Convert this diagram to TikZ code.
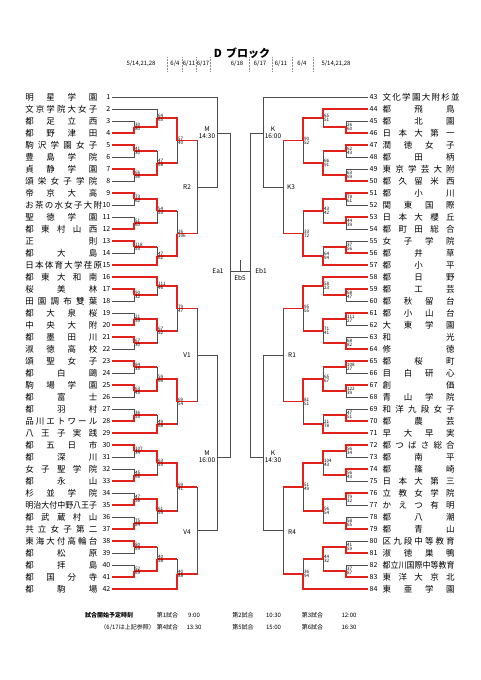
\documentclass[tikz,border=0pt]{standalone}
\usepackage{fontspec}
\setmainfont{Noto Sans CJK JP}
\usetikzlibrary{positioning,calc}
\definecolor{WinRed}{HTML}{E3211B}
\definecolor{WireGray}{HTML}{4D4D4D}
\definecolor{SepGray}{HTML}{8C8C8C}
\tikzset{
  wire/.style={draw=WireGray, line width=0.6pt},
  winpath/.style={draw=WinRed, line width=1.4pt},
  teamname/.style={font=\fontsize{8.5}{9}\selectfont, inner sep=0pt},
  seed/.style={font=\fontsize{7}{8}\selectfont, inner sep=1.5pt},
  pts/.style={font=\fontsize{4.6}{5}\selectfont, inner sep=0.2pt, xshift=0.6pt},
  tag/.style={font=\fontsize{6.5}{7}\selectfont, inner sep=0.5pt, align=center},
  datecol/.style={font=\fontsize{6}{7}\selectfont, inner sep=0pt},
  foot/.style={font=\fontsize{6}{7}\selectfont, inner sep=0pt},
}
\newcommand\spread[1]{\makebox[72pt][s]{#1}}
\newcommand\tight[2]{\scalebox{#1}[1]{#2}}
% bracket helpers
\newcommand\bout[3]{\draw[wire] (#1) -| (#3) (#2) -| (#3);}
\newcommand\won[2]{\draw[winpath] (#1) -| (#2);}
\newcommand\went[2]{\draw[winpath] (#1) -- (#1 -| #2);}
\newcommand\score[3]{\node[pts, anchor=south west] (#1a) at (#1) {#2};
  \node[pts, anchor=north west] (#1b) at (#1) {#3};}

\begin{document}
\begin{tikzpicture}[x=1pt, y=-1pt]
  \fill[white] (0,0) rectangle (481,680);
  \useasboundingbox (0,0) rectangle (481,680);

  % title and dates
  \node[font=\fontsize{11}{12}\selectfont\bfseries] (title) at (242,53) {D\hspace{0.4em}ブロック};
  \foreach \x/\d [count=\i] in {141/{5/14,21,28}, 175/{6/4}, 189/{6/11}, 203/{6/17}, 237/{6/18},
      260/{6/17}, 281/{6/11}, 302/{6/4}, 336/{5/14,21,28}}
    \node[datecol] (d\i) at (\x,64) {\d};
  \foreach \x [count=\i] in {167,182,196,210,249,272,292,313}
    \draw[SepGray, densely dotted, line width=0.5pt] (\x,57) coordinate (s\i) -- (\x,71);

  \begin{scope}[y=-12pt, yshift=-85pt]
  % teams
  \foreach \k/\nm in {1/{明 星 学 園}, 2/{文 京 学 院 大 女 子}, 3/{都 足 立 西}, 4/{都 野 津 田},
      5/{駒 沢 学 園 女 子}, 6/{豊 島 学 院}, 7/{貞 静 学 園}, 8/{頌 栄 女 子 学 院},
      9/{帝 京 大 高}, 10/{お 茶 の 水 女 子 大 附}, 11/{聖 徳 学 園}, 12/{都 東 村 山 西},
      13/{正 則}, 14/{都 大 島}, 15/{日 本 体 育 大 学 荏 原}, 16/{都 東 大 和 南},
      17/{桜 美 林}, 18/{田 園 調 布 雙 葉}, 19/{都 大 泉 桜}, 20/{中 央 大 附},
      21/{都 墨 田 川}, 22/{淑 徳 高 校}, 23/{頌 聖 女 子}, 24/{都 白 鷗},
      25/{駒 場 学 園}, 26/{都 富 士}, 27/{都 羽 村}, 28/{品 川 エ ト ワ ー ル},
      29/{八 王 子 実 践}, 30/{都 五 日 市}, 31/{都 深 川}, 32/{女 子 聖 学 院},
      33/{都 永 山}, 34/{杉 並 学 院}, 35/{\tight{0.94}{明治大付中野八王子}}, 36/{都 武 蔵 村 山},
      37/{共 立 女 子 第 二}, 38/{東 海 大 付 高 輪 台}, 39/{都 松 原}, 40/{都 拝 島},
      41/{都 国 分 寺}, 42/{都 駒 場}}{
    \node[teamname, anchor=east] (n\k) at (97.5,\k) {\spread{\nm}};
    \node[seed, anchor=east] (t\k) at (112,\k) {\k};
  }
  \foreach \k/\nm in {43/{文 化 学 園 大 附 杉 並}, 44/{都 飛 鳥}, 45/{都 北 園}, 46/{日 本 大 第 一},
      47/{潤 徳 女 子}, 48/{都 田 柄}, 49/{東 京 学 芸 大 附}, 50/{都 久 留 米 西},
      51/{都 小 川}, 52/{関 東 国 際}, 53/{日 本 大 櫻 丘}, 54/{都 町 田 総 合},
      55/{女 子 学 院}, 56/{都 井 草}, 57/{都 小 平}, 58/{都 日 野},
      59/{都 工 芸}, 60/{都 秋 留 台}, 61/{都 小 山 台}, 62/{大 東 学 園},
      63/{和 光}, 64/{修 徳}, 65/{都 桜 町}, 66/{目 白 研 心},
      67/{創 価}, 68/{青 山 学 院}, 69/{和 洋 九 段 女 子}, 70/{都 農 芸},
      71/{早 大 早 実}, 72/{都 つ ば さ 総 合}, 73/{都 南 平}, 74/{都 篠 崎},
      75/{日 本 大 第 三}, 76/{立 教 女 学 院}, 77/{か え つ 有 明}, 78/{都 八 潮},
      79/{都 青 山}, 80/{区 九 段 中 等 教 育}, 81/{淑 徳 巣 鴨}, 82/{\tight{0.94}{都立川国際中等教育}},
      83/{東 洋 大 京 北}, 84/{東 亜 学 園}}{
    \pgfmathtruncatemacro\r{\k-42}
    \node[seed, anchor=west] (t\k) at (368,\r) {\k};
    \node[teamname, anchor=west] (n\k) at (382.5,\r) {\spread{\nm}};
  }

  % match points
  \foreach \c/\x/\y in {b34/134/3.5, b24/157/2.75, b56/134/5.5, b78/134/7.5, b58/157/6.5,
      b28/177/4.625, b910/134/9.5, b1112/134/11.5, b912/157/10.5, b1314/134/13.5,
      b1315/157/14.25, b915/177/12.375, R2/197/8.5, M1/217/4,
      b1718/134/17.5, b1618/157/16.75, b1920/134/19.5, b2122/134/21.5, b1922/157/20.5,
      b1622/177/18.625, b2324/134/23.5, b2526/134/25.5, b2326/157/24.5, b2728/134/27.5,
      b2729/157/28.25, b2329/177/26.375, V1/197/22.5, b3031/134/30.5, b3233/134/32.5,
      b3033/157/31.5, b3435/134/34.5, b3637/134/36.5, b3437/157/35.5, b3037/177/33.5,
      b3839/134/38.5, b4041/134/40.5, b3841/157/39.5, b3842/177/40.75, V4/197/37.125,
      M2/217/31, EA/230/15.5,
      c4546/346/3.5, c4446/323/2.75, c4748/346/5.5, c4950/346/7.5, c4750/323/6.5,
      c4450/303/4.625, c5152/346/9.5, c5354/346/11.5, c5154/323/10.5, c5556/346/13.5,
      c5557/323/14.25, c5157/303/12.375, K3/283/8.5, K1/263/4,
      c5960/346/17.5, c5860/323/16.75, c6162/346/19.5, c6364/346/21.5, c6164/323/20.5,
      c5864/303/18.625, c6566/346/23.5, c6768/346/25.5, c6568/323/24.5, c6970/346/27.5,
      c6971/323/28.25, c6571/303/26.375, R1/283/22.5, c7273/346/30.5, c7475/346/32.5,
      c7275/323/31.5, c7677/346/34.5, c7879/346/36.5, c7679/323/35.5, c7279/303/33.5,
      c8081/346/38.5, c8283/346/40.5, c8083/323/39.5, c8084/303/40.75, R4/283/37.125,
      K2/263/31, EB/250/15.5, E5/240/14.6}
    \coordinate (\c) at (\x,\y);

  % bracket wires
  \foreach \p/\q/\m in {t3/t4/b34, t2/b34/b24, t5/t6/b56, t7/t8/b78, b56/b78/b58, b24/b58/b28,
      t9/t10/b910, t11/t12/b1112, b910/b1112/b912, t13/t14/b1314, b1314/t15/b1315,
      b912/b1315/b915, b28/b915/R2, t1/R2/M1,
      t17/t18/b1718, t16/b1718/b1618, t19/t20/b1920, t21/t22/b2122, b1920/b2122/b1922,
      b1618/b1922/b1622, t23/t24/b2324, t25/t26/b2526, b2324/b2526/b2326, t27/t28/b2728,
      b2728/t29/b2729, b2326/b2729/b2329, b1622/b2329/V1, t30/t31/b3031, t32/t33/b3233,
      b3031/b3233/b3033, t34/t35/b3435, t36/t37/b3637, b3435/b3637/b3437, b3033/b3437/b3037,
      t38/t39/b3839, t40/t41/b4041, b3839/b4041/b3841, b3841/t42/b3842, b3037/b3842/V4,
      V1/V4/M2, M1/M2/EA,
      t45/t46/c4546, t44/c4546/c4446, t47/t48/c4748, t49/t50/c4950, c4748/c4950/c4750,
      c4446/c4750/c4450, t51/t52/c5152, t53/t54/c5354, c5152/c5354/c5154, t55/t56/c5556,
      c5556/t57/c5557, c5154/c5557/c5157, c4450/c5157/K3, t43/K3/K1,
      t59/t60/c5960, t58/c5960/c5860, t61/t62/c6162, t63/t64/c6364, c6162/c6364/c6164,
      c5860/c6164/c5864, t65/t66/c6566, t67/t68/c6768, c6566/c6768/c6568, t69/t70/c6970,
      c6970/t71/c6971, c6568/c6971/c6571, c5864/c6571/R1, t72/t73/c7273, t74/t75/c7475,
      c7273/c7475/c7275, t76/t77/c7677, t78/t79/c7879, c7677/c7879/c7679, c7275/c7679/c7279,
      t80/t81/c8081, t82/t83/c8283, c8081/c8283/c8083, c8083/t84/c8084, c7279/c8084/R4,
      R1/R4/K2, K1/K2/EB}
    \bout{\p}{\q}{\m};
  \draw[wire] (EA) -- (EB);
  \draw[wire] (E5) -- (E5 |- EA);

  % winners in red
  \won{t4}{b34} \won{b34}{b24} \won{t5}{b56} \won{t7}{b78} \won{b78}{b58} \went{b56}{b58}
  \won{b24}{b28} \went{b58}{b28} \went{b28}{R2}
  \won{t9}{b910} \won{t12}{b1112} \won{b910}{b912} \went{b1112}{b912} \won{t13}{b1314}
  \won{t15}{b1315} \went{b1314}{b1315} \won{b1315}{b915} \went{b912}{b915} \went{b915}{R2}
  \won{t17}{b1718} \won{t16}{b1618} \went{b1718}{b1618} \won{t20}{b1920} \won{t21}{b2122}
  \won{b1920}{b1922} \went{b2122}{b1922} \won{b1618}{b1622} \went{b1922}{b1622} \went{b1622}{V1}
  \won{t23}{b2324} \won{t25}{b2526} \won{b2526}{b2326} \went{b2324}{b2326} \won{t28}{b2728}
  \won{t29}{b2729} \went{b2728}{b2729} \won{b2326}{b2329} \went{b2729}{b2329} \went{b2329}{V1}
  \won{t30}{b3031} \won{t33}{b3233} \won{b3031}{b3033} \went{b3233}{b3033} \won{b3033}{b3037}
  \won{t35}{b3435} \won{t37}{b3637} \won{b3435}{b3437} \went{b3637}{b3437} \went{b3437}{b3037}
  \went{b3037}{V4}
  \won{t38}{b3839} \won{t41}{b4041} \won{b4041}{b3841} \went{b3839}{b3841} \won{t42}{b3842}
  \went{b3841}{b3842} \went{b3842}{V4}
  \won{t46}{c4546} \won{t44}{c4446} \went{c4546}{c4446} \won{t47}{c4748} \won{t50}{c4950}
  \won{c4950}{c4750} \went{c4748}{c4750} \won{c4446}{c4450} \went{c4750}{c4450} \went{c4450}{K3}
  \won{t51}{c5152} \won{t53}{c5354} \won{c5152}{c5154} \went{c5354}{c5154} \won{t56}{c5556}
  \won{t57}{c5557} \went{c5556}{c5557} \won{c5557}{c5157} \went{c5154}{c5157} \went{c5157}{K3}
  \won{t59}{c5960} \won{t58}{c5860} \went{c5960}{c5860} \won{t61}{c6162} \won{t64}{c6364}
  \won{c6162}{c6164} \went{c6364}{c6164} \won{c5860}{c5864} \went{c6164}{c5864} \went{c5864}{R1}
  \won{t65}{c6566} \won{t67}{c6768} \won{c6768}{c6568} \went{c6566}{c6568} \won{t70}{c6970}
  \won{t71}{c6971} \went{c6970}{c6971} \won{c6568}{c6571} \went{c6971}{c6571} \went{c6571}{R1}
  \won{t72}{c7273} \won{t74}{c7475} \won{c7273}{c7275} \went{c7475}{c7275} \won{t76}{c7677}
  \won{t79}{c7879} \won{c7677}{c7679} \went{c7879}{c7679} \won{c7275}{c7279} \went{c7679}{c7279}
  \went{c7279}{R4}
  \won{t81}{c8081} \won{t83}{c8283} \won{c8081}{c8083} \went{c8283}{c8083} \won{t84}{c8084}
  \went{c8083}{c8084} \went{c8084}{R4}

  % scores
  \foreach \m/\s/\u in {b34/30/80, b24/64/65, b56/41/30, b78/66/56, b58/47/68, b28/57/40,
      b910/73/62, b1112/51/60, b912/54/53, b1314/118/53, b1315/47/62, b915/26/106,
      b1718/90/32, b1618/111/46, b1920/21/99, b2122/67/30, b1922/67/52, b1622/79/47,
      b2324/84/35, b2526/63/45, b2326/59/66, b2728/36/53, b2729/49/68, b2329/69/54,
      b3031/107/34, b3233/45/66, b3033/63/53, b3435/47/56, b3637/75/84, b3437/61/59,
      b3037/69/41, b3839/80/53, b4041/52/69, b3841/40/58, b3842/40/88,
      c4546/26/60, c4446/65/51, c4748/62/43, c4950/63/69, c4750/66/91, c4450/90/52,
      c5152/78/61, c5354/44/39, c5154/43/42, c5556/37/56, c5557/64/94, c5157/33/72,
      c5960/68/47, c5860/58/23, c6162/111/27, c6364/68/82, c6164/71/41, c5864/95/55,
      c6566/108/27, c6768/122/39, c6568/65/67, c6970/47/51, c6971/21/78, c6571/81/51,
      c7273/56/34, c7475/56/43, c7275/104/43, c7677/79/32, c7879/58/65, c7679/56/54,
      c7279/51/49, c8081/41/59, c8283/37/87, c8083/44/32, c8084/36/94}
    \score{\m}{\s}{\u};

  % round tags
  \node[tag] (tagM1) at (207,4) {M\\14:30};
  \node[tag] (tagR2) at (187,8.5) {R2};
  \node[tag] (tagV1) at (187,22.5) {V1};
  \node[tag] (tagV4) at (187,37.3) {V4};
  \node[tag] (tagM2) at (207,31) {M\\16:00};
  \node[tag] (tagEa) at (218,15.5) {Ea1};
  \node[tag] (tagEb5) at (240,16.1) {Eb5};
  \node[tag] (tagEb) at (261,15.5) {Eb1};
  \node[tag] (tagK1) at (273,4) {K\\16:00};
  \node[tag] (tagK3) at (291,8.5) {K3};
  \node[tag] (tagR1) at (292,22.5) {R1};
  \node[tag] (tagR4) at (292,37.3) {R4};
  \node[tag] (tagK2) at (273,31) {K\\14:30};
  \end{scope}

  % start times
  \node[foot, anchor=west, font=\fontsize{6}{7}\selectfont\bfseries] (f0) at (85,615) {試合開始予定時刻};
  \node[foot, anchor=east] (f1) at (155,627) {（6/17は上記参照）};
  \foreach \x/\xt/\g/\t/\u [count=\i] in {167.5/194/1/9:00/13:30, 243/273.5/2/10:30/15:00,
      312.5/349/3/12:00/16:30}{
    \pgfmathtruncatemacro\h{\g+3}
    \node[foot] (g\i) at (\x,615) {第\g 試合};
    \node[foot] (h\i) at (\x,627) {第\h 試合};
    \node[foot] (gt\i) at (\xt,615) {\t};
    \node[foot] (ht\i) at (\xt,627) {\u};
  }
\end{tikzpicture}
\end{document}
